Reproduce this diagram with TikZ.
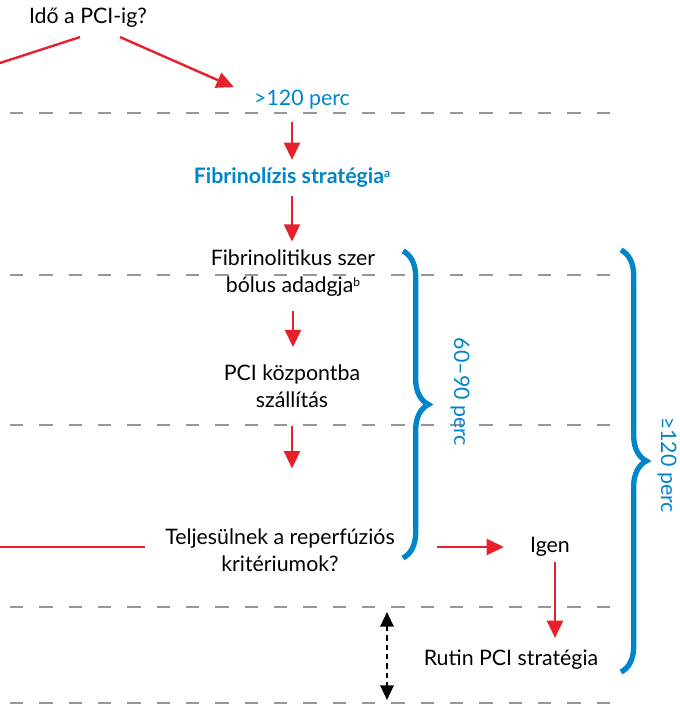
\documentclass[tikz,border=0pt]{standalone}
\usepackage{fontspec}
\setmainfont{Lato}
\usepackage{xcolor}
\definecolor{escblue}{RGB}{0,133,202}
\definecolor{escred}{RGB}{232,32,44}
\definecolor{escgray}{RGB}{150,150,150}
\usetikzlibrary{positioning,arrows.meta,calc,decorations.pathreplacing}

\newcommand{\fnmark}[1]{{\fontsize{9}{9}\selectfont\raisebox{4.5pt}{#1}}}

\begin{document}
\begin{tikzpicture}[
  x=0.75pt,y=-0.75pt,
  font=\fontsize{16}{20}\selectfont,
  >={Triangle[length=13pt,width=12pt]},
  txt/.style={align=center,inner sep=6pt},
  lbl/.style={txt,text=escblue},
  ar/.style={->,line width=1.8pt,escred},
  ln/.style={line width=1.8pt,escred},
  dar/.style={{Triangle[length=11pt,width=10pt]}-{Triangle[length=11pt,width=10pt]},line width=1.6pt,dash pattern=on 4pt off 3pt},
  sep/.style={escgray,line width=1.8pt,dash pattern=on 10pt off 12pt},
  br/.style={escblue,line width=4pt,decorate,decoration={brace,amplitude=19pt}},
]
\useasboundingbox (0,0) rectangle (680,705);

% time bands
\foreach \y in {113,275,425,607,703}
  \draw[sep] (10,\y) -- (610,\y);

\node[txt] (time) at (88,18) {Idő a PCI-ig?};
\node[lbl] (late) at (302,100) {>120 perc};
\node[lbl,font=\fontsize{16}{20}\selectfont\bfseries] (fib) at (292,178) {Fibrinolízis stratégia\fnmark{a}};
\node[txt] (bolus) at (293,273) {Fibrinolitikus szer\\bólus adadgja\fnmark{b}};
\node[txt] (transfer) at (292,386) {PCI központba\\szállítás};
\node[txt] (check) at (280,550) {Teljesülnek a reperfúziós\\kritériumok?};
\node[txt] (yes) at (550,547) {Igen};
\node[txt] (routine) at (511,660) {Rutin PCI stratégia};

\coordinate (early) at (0,63);
\coordinate (no) at (0,547);
\coordinate (yesfrom) at (437,547);
\coordinate (gapT) at (387,612);
\coordinate (gapB) at (387,700);

\draw[ln] ($(time.south)+(-8,1)$) -- (early);
\draw[ar] ($(time.south)+(32,1)$) -- ($(late.north west)+(-12,5)$);
\draw[ar,shorten <=3pt] (fib.north |- late.south) -- (fib.north);
\draw[ar] (fib.south) -- (bolus.north -| fib.south);
\draw[ar,shorten <=5pt,shorten >=7pt] (bolus.south) -- (transfer.north -| bolus.south);
\draw[ar,shorten <=8pt,shorten >=39pt] (transfer.south) -- (check.north -| transfer.south);
\draw[ln] ($(check.west)+(-12,-3)$) -- (no);
\draw[ar] (yesfrom) -- ($(yes.west)+(-18,0)$);
\draw[ar] ($(yes.south)+(5,-3)$) -- ($(routine.north)+(44,-4)$);
\draw[dar] (gapT) -- (gapB);

% time braces
\draw[br] (403,251) -- (403,558);
\node[lbl,rotate=-90] (short) at (460,392) {60–90 perc};
\draw[br] (621,250) -- (621,672);
\node[lbl,rotate=-90] (long) at (667,465) {≥120 perc};
\end{tikzpicture}
\end{document}
